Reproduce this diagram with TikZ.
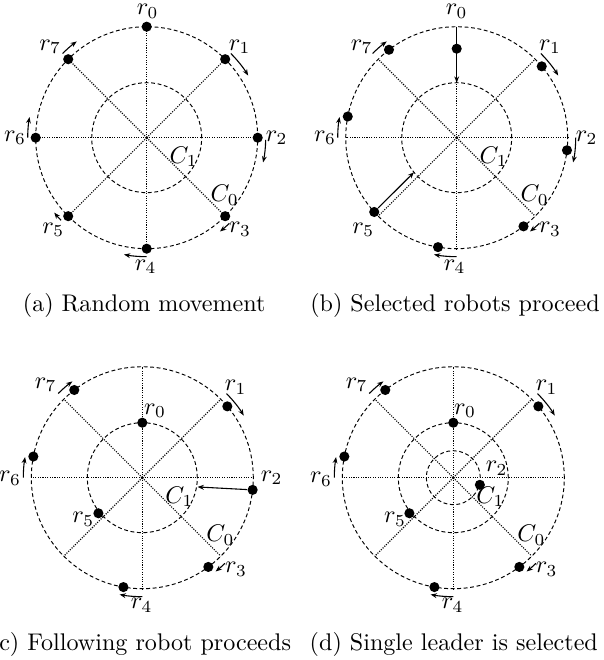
\documentclass[tikz,border=0pt]{standalone}
\usetikzlibrary{arrows.meta}
\newcommand\ringbase[2]{%
  \draw[ring] (0,0) circle[radius=111];
  \draw[ring] (0,0) circle[radius=55];
  \foreach \t in {0,45,...,315} \draw[spoke] (0,0) -- (\t:111);
  \fill (0,0) circle[radius=1.6];
  \node[lbl] (#1C1) at (37,-19) {$C_1$};
  \node[lbl] (#1C0) at (78,-57.3) {$C_0$};
}
\newcommand\mvarc[2]{\draw[mv] (#1:119) arc[start angle=#1, end angle=#2, radius=119];}
\begin{document}
\begin{tikzpicture}[x=0.415pt, y=0.415pt,
  ring/.style={line width=0.4pt, dash pattern=on 1.6pt off 1.1pt},
  spoke/.style={line width=0.45pt, dash pattern=on 0.45pt off 0.55pt},
  robot/.style={circle, fill=black, inner sep=0pt, minimum size=4.2pt},
  mv/.style={line width=0.45pt, -{Stealth[length=2.6pt,width=2pt]}},
  lbl/.style={inner sep=0pt},
  captext/.style={anchor=base, inner sep=0pt}]
\useasboundingbox (0,0) rectangle (603,-660);

% ---------- (a)
\begin{scope}[shift={(146.7,-137.7)}]
  \ringbase{a}{}
  \foreach \i in {0,...,7} {
    \node[robot] (a\i) at ({90-45*\i}:111) {};
  }
  \node[lbl] (al0) at (1,126.5) {$r_0$};
  \node[lbl] (al1) at (93,91) {$r_1$};
  \node[lbl] (al2) at (130,0) {$r_2$};
  \node[lbl] (al3) at (93.3,-91.5) {$r_3$};
  \node[lbl] (al4) at (-1,-129) {$r_4$};
  \node[lbl] (al5) at (-93.4,-92.3) {$r_5$};
  \node[lbl] (al6) at (-131.7,0) {$r_6$};
  \node[lbl] (al7) at (-96.5,91) {$r_7$};
  \mvarc{45}{31.5}
  \mvarc{-1}{-12}
  \mvarc{-46}{-52}
  \mvarc{-90}{-101}
  \mvarc{-136}{-141}
  \mvarc{180}{170}
  \mvarc{135}{126}
\end{scope}
\node[captext] (capa) at (144.2,-311.5) {(a) Random movement};

% ---------- (b)
\begin{scope}[shift={(456.7,-137.7)}]
  \ringbase{b}{}
  \coordinate (b0s) at (90:111);
  \coordinate (b0e) at (90:55);
  \draw[mv] (b0s) -- (b0e);
  \node[robot] (b0) at (90:89) {};
  \node[robot] (b1) at (40:111) {};
  \node[robot] (b2) at (-6.5:111) {};
  \node[robot] (b3) at (-53:111) {};
  \node[robot] (b4) at (-99.7:111) {};
  \node[robot] (b5) at (-138:111) {};
  \node[robot] (b6) at (169:111) {};
  \node[robot] (b7) at (127.6:111) {};
  \coordinate (b5e) at (-141:55);
  \draw[mv] (b5) -- (b5e);
  \node[lbl] (bl0) at (0,126.5) {$r_0$};
  \node[lbl] (bl1) at (93.3,91) {$r_1$};
  \node[lbl] (bl2) at (130,0) {$r_2$};
  \node[lbl] (bl3) at (93.3,-91.5) {$r_3$};
  \node[lbl] (bl4) at (-2,-129) {$r_4$};
  \node[lbl] (bl5) at (-93.4,-92.3) {$r_5$};
  \node[lbl] (bl6) at (-131.7,0) {$r_6$};
  \node[lbl] (bl7) at (-95,91) {$r_7$};
  \mvarc{45}{31.5}
  \mvarc{0}{-12}
  \mvarc{-46}{-52}
  \mvarc{-90}{-101}
  \mvarc{180}{170}
  \mvarc{135}{126}
\end{scope}
\node[captext] (capb) at (455,-311.5) {(b) Selected robots proceed};

% ---------- (c)
\begin{scope}[shift={(142.3,-477.7)}]
  \ringbase{c}{}
  \node[robot] (c0) at (90:55) {};
  \node[robot] (c1) at (40:111) {};
  \node[robot] (c2) at (-6.3:111) {};
  \node[robot] (c3) at (-53.5:111) {};
  \node[robot] (c4) at (-99.8:111) {};
  \node[robot] (c5) at (-141:56.5) {};
  \node[robot] (c6) at (169:111) {};
  \node[robot] (c7) at (127.8:111) {};
  \coordinate (c2e) at (-9.5:56);
  \draw[mv] (c2) -- (c2e);
  \node[lbl] (cl0) at (12.7,67) {$r_0$};
  \node[lbl] (cl1) at (93.4,90.5) {$r_1$};
  \node[lbl] (cl2) at (129.4,0) {$r_2$};
  \node[lbl] (cl3) at (93.7,-91.6) {$r_3$};
  \node[lbl] (cl4) at (-0.6,-127.5) {$r_4$};
  \node[lbl] (cl5) at (-59,-41.6) {$r_5$};
  \node[lbl] (cl6) at (-132.3,-0.6) {$r_6$};
  \node[lbl] (cl7) at (-96.6,93) {$r_7$};
  \mvarc{45}{31.5}
  \mvarc{-46}{-52}
  \mvarc{-90}{-101}
  \mvarc{180}{170}
  \mvarc{135}{126}
\end{scope}
\node[captext] (capc) at (140.5,-650) {(c) Following robot proceeds};

% ---------- (d)
\begin{scope}[shift={(453.3,-477.7)}]
  \ringbase{d}{}
  \draw[ring] (0,0) circle[radius=27];
  \node[robot] (d0) at (90:55) {};
  \node[robot] (d1) at (40:111) {};
  \node[robot] (d2) at (-15:27.5) {};
  \node[robot] (d3) at (-53.5:111) {};
  \node[robot] (d4) at (-99.8:111) {};
  \node[robot] (d5) at (-141:56.5) {};
  \node[robot] (d6) at (169:111) {};
  \node[robot] (d7) at (127.8:111) {};
  \node[lbl] (dl0) at (11.7,67) {$r_0$};
  \node[lbl] (dl1) at (93.4,90.5) {$r_1$};
  \node[lbl] (dl2) at (43.3,9.3) {$r_2$};
  \node[lbl] (dl3) at (93.4,-91.6) {$r_3$};
  \node[lbl] (dl4) at (-0.6,-127.5) {$r_4$};
  \node[lbl] (dl5) at (-58.3,-41.6) {$r_5$};
  \node[lbl] (dl6) at (-132.3,-1.6) {$r_6$};
  \node[lbl] (dl7) at (-96.6,93) {$r_7$};
  \mvarc{45}{31.5}
  \mvarc{-46}{-52}
  \mvarc{-90}{-101}
  \mvarc{180}{170}
  \mvarc{135}{126}
\end{scope}
\node[captext] (capd) at (453.8,-650) {(d) Single leader is selected};
\end{tikzpicture}
\end{document}
